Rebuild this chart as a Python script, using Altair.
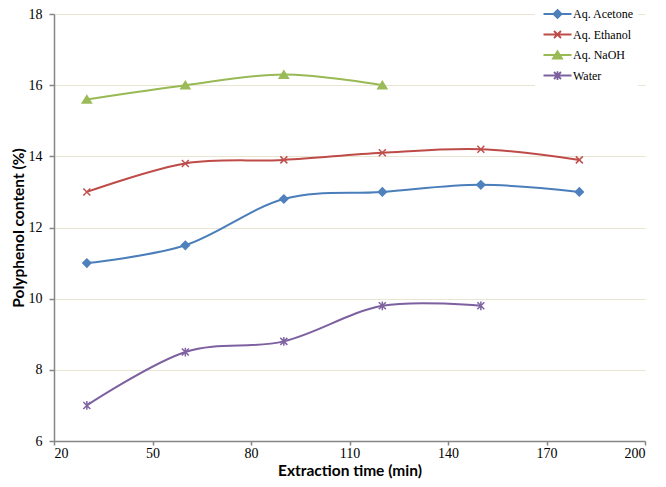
import altair as alt
import pandas as pd

# ---- data ----
times = [30, 60, 90, 120, 150, 180]
acetone = [11.0, 11.5, 12.8, 13.0, 13.2, 13.0]
ethanol = [13.0, 13.8, 13.9, 14.1, 14.2, 13.9]
naoh = [15.6, 16.0, 16.3, 16.0]
water = [7.0, 8.5, 8.8, 9.8, 9.8]

series_names = ["Aq. Acetone", "Aq. Ethanol", "Aq. NaOH", "Water"]
line_colors = ["#4A7EBB", "#BE4B48", "#98B954", "#7D60A0"]
marker_colors = ["#4F81BD", "#C0504D", "#9BBB59", "#8064A2"]
marker_paths = [
    "M0,-1.15L1.15,0L0,1.15L-1.15,0Z",
    "M-1,-1L1,1M-1,1L1,-1",
    "M0,-1.05L1.3,1.05L-1.3,1.05Z",
    "M-1,-1L1,1M-1,1L1,-1M0,-1.25L0,1.25",
]
legend_paths = ["M-4,0L4,0" + p for p in marker_paths]
x_ticks = [20, 50, 80, 110, 140, 170, 200]
y_ticks = [6, 8, 10, 12, 14, 16, 18]

rows = []
for name, vals in zip(series_names, [acetone, ethanol, naoh, water]):
    for t, v in zip(times, vals):
        rows.append({"time": t, "value": v, "series": name})
df = pd.DataFrame(rows)

SERIF = "Times New Roman, Liberation Serif, serif"

x_enc = alt.X(
    "time:Q",
    scale=alt.Scale(domain=[20, 200], nice=False, zero=False),
    axis=alt.Axis(values=x_ticks, title="Extraction time (min)", grid=False,
                  tickSize=4, labelPadding=1, titlePadding=3),
)
y_enc = alt.Y(
    "value:Q",
    scale=alt.Scale(domain=[6, 18], nice=False, zero=False),
    axis=alt.Axis(values=y_ticks, title="Polyphenol content (%)", grid=True,
                  gridColor="#E8E5D3", gridWidth=1, tickSize=5,
                  labelPadding=7, titlePadding=2),
)

base = alt.Chart(df)

lines = base.mark_line(interpolate="cardinal", strokeWidth=2).encode(
    x=x_enc,
    y=y_enc,
    color=alt.Color("series:N",
                    scale=alt.Scale(domain=series_names, range=line_colors),
                    legend=None),
)

points = base.mark_point(filled=True, size=49, strokeWidth=1.5, opacity=1).encode(
    x=x_enc,
    y=y_enc,
    color=alt.Color("series:N",
                    scale=alt.Scale(domain=series_names, range=marker_colors),
                    legend=None),
    stroke=alt.Stroke("series:N",
                      scale=alt.Scale(domain=series_names, range=marker_colors),
                      legend=None),
    shape=alt.Shape("series:N",
                    scale=alt.Scale(domain=series_names, range=marker_paths),
                    legend=None),
)

leg = alt.Legend(
    title=None, orient="none", legendX=481, legendY=-10,
    symbolSize=49, symbolStrokeWidth=1.8,
    labelFont=SERIF, labelFontSize=12, labelColor="black",
    rowPadding=4.5, padding=4, fillColor="white",
    symbolOffset=12.5, labelOffset=9.5,
)

legend_layer = base.transform_filter("false").mark_point(
    filled=True, size=49, strokeWidth=1.8, opacity=1
).encode(
    x=x_enc,
    y=y_enc,
    color=alt.Color("series:N",
                    scale=alt.Scale(domain=series_names, range=marker_colors),
                    legend=leg),
    stroke=alt.Stroke("series:N",
                      scale=alt.Scale(domain=series_names, range=line_colors),
                      legend=leg),
    shape=alt.Shape("series:N",
                    scale=alt.Scale(domain=series_names, range=legend_paths),
                    legend=leg),
)

chart = (
    alt.layer(lines, points, legend_layer)
    .resolve_scale(color="independent", stroke="independent", shape="independent")
    .properties(
        width=591,
        height=427,
        autosize=alt.AutoSizeParams(type="none"),
        padding={"left": 46, "top": 6, "right": 13, "bottom": 38},
        background="white",
    )
    .configure_view(stroke=None)
    .configure_axis(
        domainColor="#868686", domainWidth=1.5, tickColor="#868686", tickWidth=1.5,
        labelFont=SERIF, labelFontSize=14, labelColor="black",
        titleFont="Lato", titleFontWeight="bold", titleFontSize=15.5, titleColor="black",
    )
)

chart.save("out.html", embed_options={"renderer": "svg", "actions": False})
